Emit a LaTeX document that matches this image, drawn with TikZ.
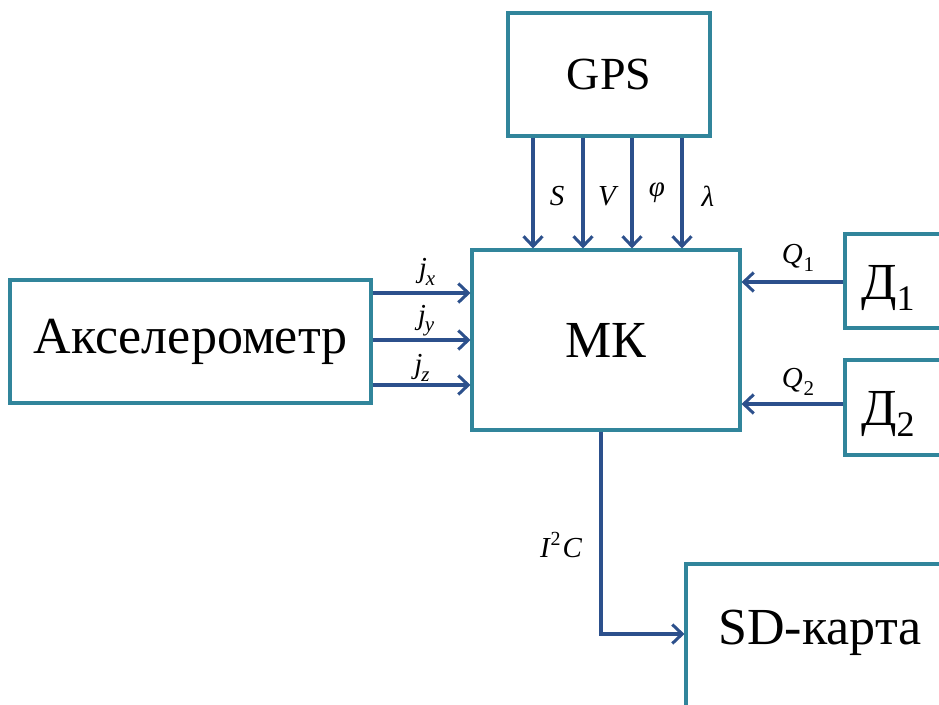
\documentclass[tikz,border=0pt]{standalone}
\usepackage{fontspec}
\setmainfont{Liberation Serif}
\usetikzlibrary{arrows.meta}
\definecolor{boxc}{RGB}{49,133,155}
\definecolor{arrc}{RGB}{44,80,140}
\newcommand{\sbx}[1]{\raisebox{-0.25em}{\fontsize{21}{24}\selectfont #1}}
\newcommand{\bsb}[1]{\raisebox{-0.22em}{\fontsize{36}{42}\selectfont #1}}
\begin{document}
\begin{tikzpicture}[x=1pt,y=-1pt,
  blk/.style={draw=boxc,line width=3.1pt,fill=white,inner sep=0pt,minimum width=#1},
  blk/.default=100pt,
  big/.style={font=\fontsize{52}{60}\selectfont},
  lbl/.style={font=\fontsize{29}{34}\selectfont\itshape,inner sep=0pt},
  sig/.style={draw=arrc,line width=3.3pt,-{Straight Barb[length=10pt,width=19pt,line width=3pt]}}]
\useasboundingbox (0,0) rectangle (939,704);
\clip (0,0) rectangle (939,704);
\fill[white] (0,0) rectangle (939,704);
% boxes
\node[blk=202pt,minimum height=123pt,font=\fontsize{46}{54}\selectfont] (gps) at (609,74.5) {GPS};
\node[blk=268pt,minimum height=180pt,big] (mk) at (606,340) {МК};
\node[blk=361pt,minimum height=123pt,big] (acc) at (190.5,341.5) {Акселерометр};
\node[blk=110pt,minimum height=94pt] (d1) at (900,281) {};
\node[big,inner sep=0pt] (d1t) at (888,288) {Д\bsb{1}};
\node[blk=110pt,minimum height=95pt] (d2) at (900,407.5) {};
\node[big,inner sep=0pt] (d2t) at (888,414) {Д\bsb{2}};
\node[blk=280pt,minimum height=190pt] (sd) at (826,659) {};
\node[big,inner sep=0pt] (sdt) at (820,633) {SD-карта};
% GPS arrows
\foreach \x in {533,583,632,682}{
  \draw[sig] (gps.south -| \x,0) -- (mk.north -| \x,0);
}
\node[lbl] (ls) at (557,196) {S};
\node[lbl] (lv) at (607,196) {V};
\node[lbl] (lphi) at (657,193) {φ};
\node[lbl] (llam) at (708,196) {λ};
% accelerometer arrows
\draw[sig] (acc.east |- 0,293) -- (mk.west |- 0,293);
\draw[sig] (acc.east |- 0,340) -- (mk.west |- 0,340);
\draw[sig] (acc.east |- 0,385) -- (mk.west |- 0,385);
\node[lbl] (jx) at (427,272) {j\kern-1pt\sbx{x}};
\node[lbl] (jy) at (426,321) {j\kern-1pt\sbx{y}};
\node[lbl] (jz) at (422,368) {j\kern-1pt\sbx{z}};
% sensors
\draw[sig] (d1.west |- 0,282) -- (mk.east |- 0,282);
\draw[sig] (d2.west |- 0,404) -- (mk.east |- 0,404);
\node[lbl] (q1) at (798,258) {Q\kern1pt\sbx{\upshape 1}};
\node[lbl] (q2) at (798,382) {Q\kern1pt\sbx{\upshape 2}};
% I2C
\draw[sig] (mk.south -| 601,0) -- (601,634) -- (sd.west |- 0,634);
\node[lbl] (i2c) at (561,545) {I\kern1pt\raisebox{0.42em}{\fontsize{20}{24}\selectfont\upshape 2}\kern2pt C};
\end{tikzpicture}
\end{document}
